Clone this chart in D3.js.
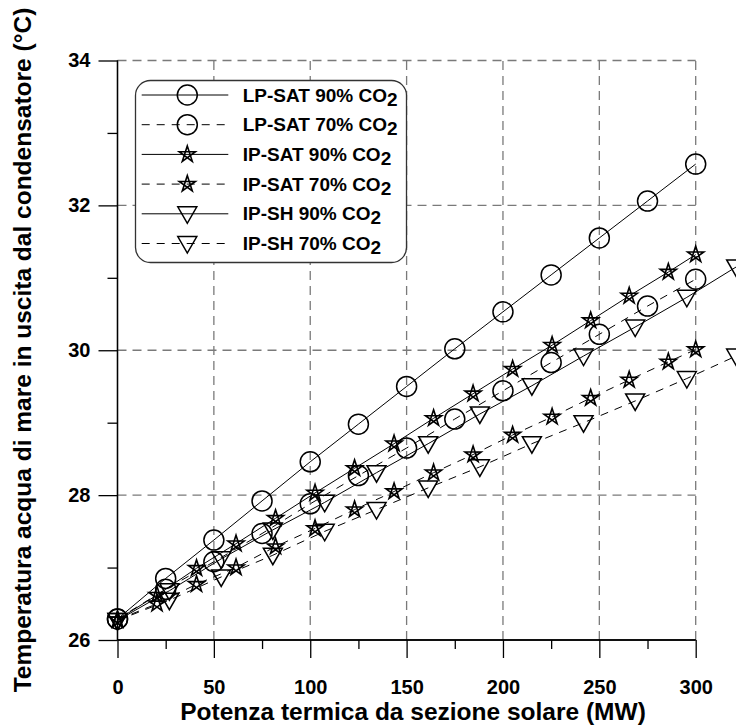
<!DOCTYPE html>
<html><head><meta charset="utf-8">
<script src="https://cdn.jsdelivr.net/npm/d3@7"></script>
<style>body{margin:0;background:#fff}svg{display:block}text{font-family:"Liberation Sans",Arial,sans-serif;font-weight:bold;fill:#000}</style>
</head><body>
<svg id="c" width="736" height="727"></svg>
<script>
// ---- data ----
const xTicks = [0, 50, 100, 150, 200, 250, 300];
const yTicks = [26, 28, 30, 32, 34];
const xLP = [0, 25, 50, 75, 100, 125, 150, 175, 200, 225, 250, 275, 300];
const lpSat90 = [26.29, 26.85, 27.38, 27.92, 28.46, 28.98, 29.50, 30.02, 30.53, 31.04, 31.55, 32.06, 32.57];
const lpSat70 = [26.29, 26.70, 27.08, 27.47, 27.88, 28.27, 28.65, 29.05, 29.44, 29.83, 30.22, 30.61, 30.98];
const xIPSAT = [0, 20.5, 41, 61.5, 82, 102.5, 123, 143.5, 164, 184.5, 205, 225.5, 245.5, 265.5, 285.8, 300];
const ipSat90 = [26.28, 26.62, 26.99, 27.33, 27.68, 28.03, 28.37, 28.71, 29.06, 29.40, 29.74, 30.07, 30.41, 30.75, 31.08, 31.32];
const ipSat70 = [26.28, 26.50, 26.77, 27.00, 27.29, 27.54, 27.80, 28.05, 28.31, 28.56, 28.83, 29.08, 29.34, 29.59, 29.84, 30.01];
const xIPSH = [0, 26.9, 53.8, 80.6, 107.5, 134.4, 161.2, 188, 215, 241.8, 268.6, 295.4, 321];
const ipSh90 = [26.27, 26.68, 27.12, 27.52, 27.90, 28.31, 28.71, 29.12, 29.51, 29.92, 30.32, 30.73, 31.15];
const ipSh70 = [26.27, 26.55, 26.87, 27.17, 27.50, 27.80, 28.10, 28.39, 28.71, 29.00, 29.30, 29.61, 29.92];
const seriesNames = ["LP-SAT 90% CO", "LP-SAT 70% CO", "IP-SAT 90% CO", "IP-SAT 70% CO", "IP-SH 90% CO", "IP-SH 70% CO"];

const series = [
  {name: seriesNames[0], x: xLP, y: lpSat90, sym: "circle", dash: null},
  {name: seriesNames[1], x: xLP, y: lpSat70, sym: "circle", dash: "8,7"},
  {name: seriesNames[2], x: xIPSAT, y: ipSat90, sym: "star", dash: null},
  {name: seriesNames[3], x: xIPSAT, y: ipSat70, sym: "star", dash: "8,7"},
  {name: seriesNames[4], x: xIPSH, y: ipSh90, sym: "tri", dash: null},
  {name: seriesNames[5], x: xIPSH, y: ipSh70, sym: "tri", dash: "8,7"}
];

const svg = d3.select("#c");
const x = d3.scaleLinear().domain([0, 300]).range([117.5, 695.7]);
const y = d3.scaleLinear().domain([26, 34]).range([640, 60.5]);

// grid
const grid = svg.append("g").attr("stroke", "#7a7a7a").attr("stroke-width", 1.3).attr("stroke-dasharray", "9,6");
xTicks.slice(1).forEach(t => grid.append("line").attr("x1", x(t)).attr("x2", x(t)).attr("y1", y(26)).attr("y2", y(34)));
yTicks.slice(1).forEach(t => grid.append("line").attr("x1", x(0)).attr("x2", x(300)).attr("y1", y(t)).attr("y2", y(t)));

// axes
const xAxis = d3.axisBottom(x).tickValues(xTicks).tickSize(18).tickPadding(22).tickFormat(d3.format("d"));
const gx = svg.append("g").attr("transform", `translate(0,${y(26)})`).call(xAxis);
gx.append("g").call(d3.axisBottom(x).tickValues([25, 75, 125, 175, 225, 275]).tickSize(9).tickFormat(""));
const yAxis = d3.axisLeft(y).tickValues(yTicks).tickSize(19).tickPadding(8).tickFormat(d3.format("d"));
const gy = svg.append("g").attr("transform", `translate(${x(0)},0)`).call(yAxis);
gy.append("g").call(d3.axisLeft(y).tickValues([27, 29, 31, 33]).tickSize(10).tickFormat(""));
[gx, gy].forEach(g => {
  g.selectAll(".domain").attr("stroke", "#000").attr("stroke-width", 1.3);
  g.selectAll("line").attr("stroke", "#000").attr("stroke-width", 1.3);
  g.selectAll("text").style("font-size", "20px").style("font-weight", "bold").attr("fill", "#000");
});
gx.selectAll(".domain").attr("d", `M${x(0)},0H${x(300)}`);
gy.selectAll(".domain").attr("d", `M0,${y(26)}V${y(34)}`);

// symbols
function symPath(type) {
  if (type === "circle") return d3.symbol(d3.symbolCircle, Math.PI * 100)();
  if (type === "tri") return "M-9.5,-7L9.5,-7L0,9.5Z";
  // pentagram drawn as a {5/2} star polygon
  const R = 8.5, pts = [];
  for (let i = 0; i < 5; i++) {
    const a = -Math.PI / 2 + i * 2 * Math.PI / 5;
    pts.push([R * Math.cos(a), R * Math.sin(a)]);
  }
  const order = [0, 2, 4, 1, 3];
  return "M" + order.map(i => pts[i].map(v => v.toFixed(2)).join(",")).join("L") + "Z";
}
function symStyle(sel, type) {
  sel.attr("fill", "none").attr("stroke", "#000").attr("stroke-width", type === "star" ? 1.6 : 1.5);
}

const line = d3.line();
series.forEach(s => {
  const pts = s.x.map((v, i) => [x(v), y(s.y[i])]);
  svg.append("path").attr("d", line(pts)).attr("fill", "none").attr("stroke", "#000").attr("stroke-width", 1)
    .attr("stroke-dasharray", s.dash);
  const g = svg.append("g");
  pts.forEach(p => {
    g.append("path").attr("d", symPath(s.sym)).attr("transform", `translate(${p[0]},${p[1]})`).call(symStyle, s.sym);
  });
});

// legend
const lg = svg.append("g");
lg.append("rect").attr("x", 135.5).attr("y", 80.5).attr("width", 271).attr("height", 182).attr("rx", 15)
  .attr("fill", "#fff").attr("stroke", "#333").attr("stroke-width", 1.3);
series.forEach((s, i) => {
  const ry = 95 + i * 29.7;
  lg.append("line").attr("x1", 141.7).attr("x2", 228.3).attr("y1", ry).attr("y2", ry)
    .attr("stroke", "#000").attr("stroke-width", 1).attr("stroke-dasharray", s.dash);
  lg.append("path").attr("d", symPath(s.sym)).attr("transform", `translate(187.3,${ry})`).call(symStyle, s.sym);
  const t = lg.append("text").attr("x", 242.7).attr("y", ry + 6.5).style("font-size", "19px");
  t.append("tspan").text(s.name);
  t.append("tspan").attr("dy", 4).text("2");
});

// titles
svg.append("text").attr("x", 413).attr("y", 720).attr("text-anchor", "middle").style("font-size", "24.5px")
  .text("Potenza termica da sezione solare (MW)");
svg.append("text").attr("transform", `translate(31,350) rotate(-90)`).attr("text-anchor", "middle").style("font-size", "24.5px")
  .text("Temperatura acqua di mare in uscita dal condensatore (°C)");
</script>
</body></html>
